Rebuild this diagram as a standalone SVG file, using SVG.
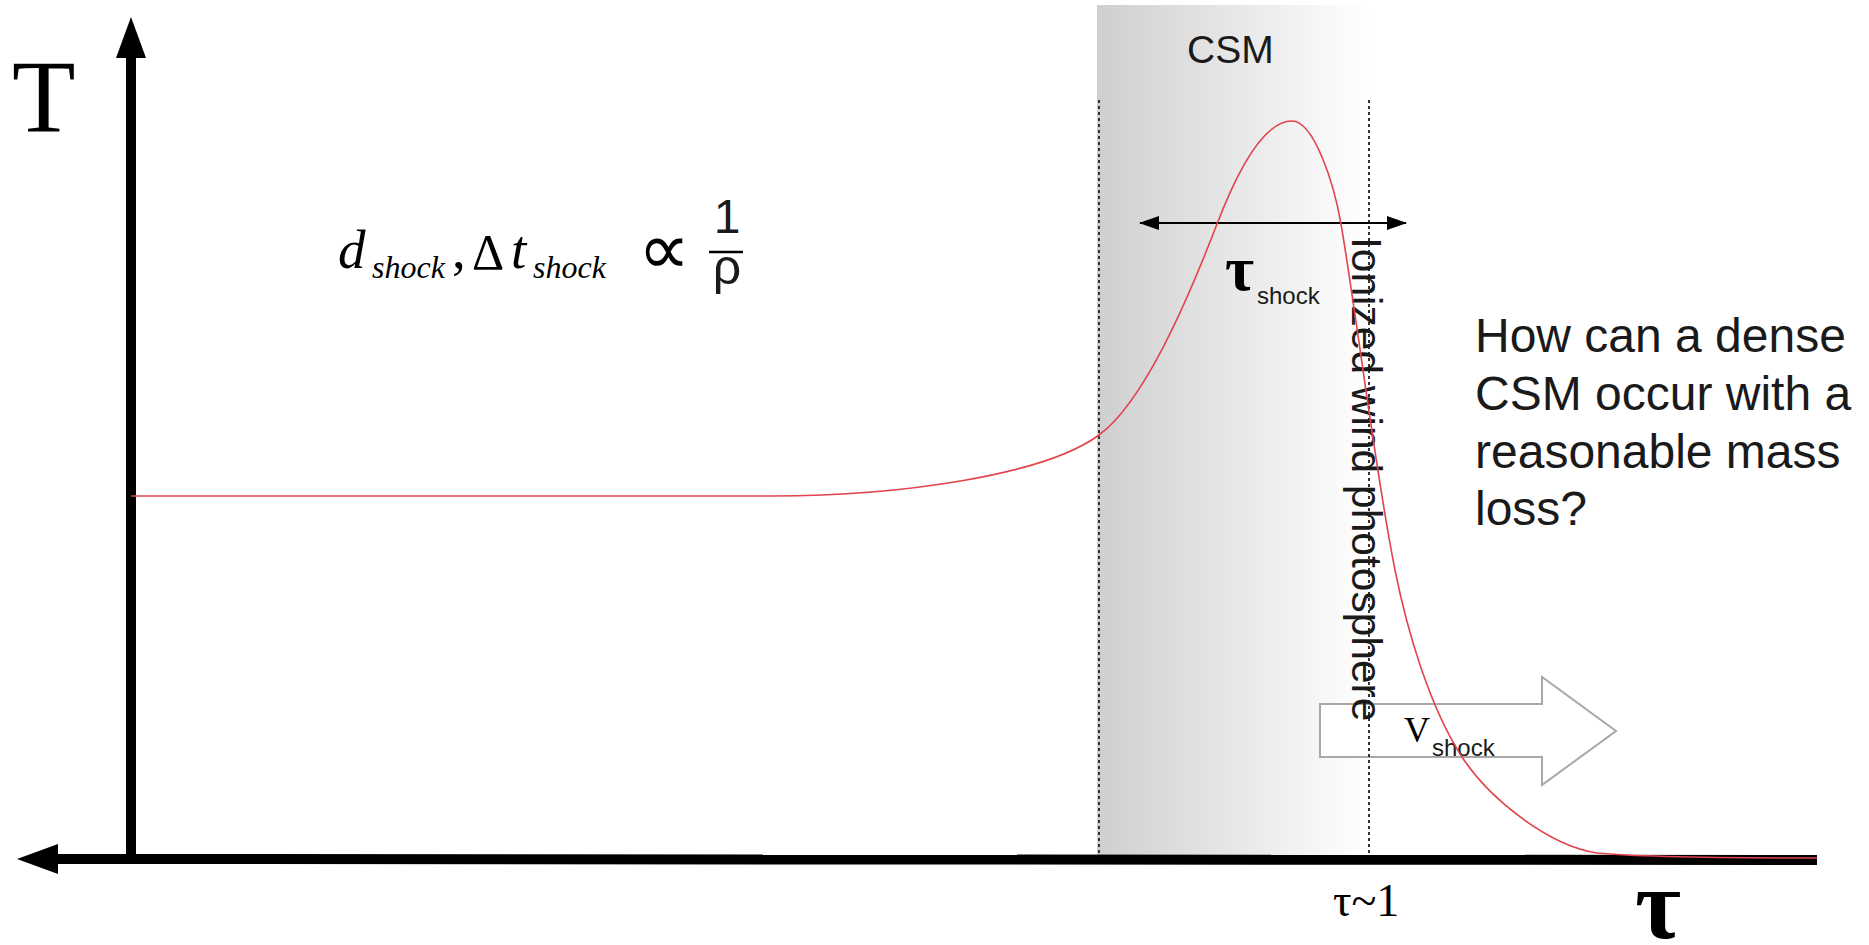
<svg xmlns="http://www.w3.org/2000/svg" width="1869" height="945" viewBox="0 0 1869 945">
<defs>
<linearGradient id="csmGrad" x1="0" y1="0" x2="1" y2="0">
<stop offset="0" stop-color="#cfcfcf"/>
<stop offset="1" stop-color="#ffffff"/>
</linearGradient>
<marker id="tipS" viewBox="0 0 20 14" refX="19" refY="7" markerWidth="20" markerHeight="14" markerUnits="userSpaceOnUse" orient="auto-start-reverse">
<path d="M0,0 L20,7 L0,14 z" fill="#000"/>
</marker>
<style>
.serif{font-family:"Liberation Serif","Times New Roman",serif;fill:#000}
.sans{font-family:"Liberation Sans",Arial,sans-serif;fill:#1a1a1a}
.it{font-style:italic}
.dot{stroke:#333;stroke-width:2;stroke-dasharray:3 3;fill:none}
.axis{stroke:#000;stroke-width:10;fill:none}
</style>
</defs>
<rect width="1869" height="945" fill="#fff"/>

<g id="csm-region">
<rect x="1097" y="5" width="272" height="852" fill="url(#csmGrad)"/>
<text class="sans" x="1187" y="63" font-size="39">CSM</text>
</g>

<g id="vshock-arrow">
<polygon points="1320,704 1542,704 1542,677 1616,731 1542,785 1542,757 1320,757" fill="#fff" stroke="#a8a8a8" stroke-width="2"/>
<text class="serif" x="1404" y="742" font-size="36">V</text>
<text class="sans" x="1432" y="756" font-size="24">shock</text>
</g>

<g id="connectors">
<line class="dot" x1="1099" y1="100" x2="1099" y2="856"/>
<line class="dot" x1="1369" y1="100" x2="1369" y2="856"/>
<line x1="1140" y1="223" x2="1406" y2="223" stroke="#000" stroke-width="2" marker-start="url(#tipS)" marker-end="url(#tipS)"/>
</g>

<g id="tau-shock">
<text class="serif" x="1225" y="290" font-size="63" font-weight="bold">τ</text>
<text class="sans" x="1257" y="304" font-size="24">shock</text>
</g>

<g id="photosphere-label">
<text class="sans" x="0" y="0" font-size="42.5" fill="#111" transform="translate(1352,237) rotate(90)">Ionized wind photosphere</text>
</g>

<g id="axes">
<line class="axis" x1="131" y1="56" x2="131" y2="859"/>
<polygon points="131,17 116,58 146,58" fill="#000"/>
<line class="axis" x1="56" y1="859" x2="1817" y2="860"/>
<polygon points="17,859 58,844 58,874" fill="#000"/>
</g>

<g id="curve">
<path d="M131,496 L772,496 C900,496 1045,475 1099,435 C1144,401.7 1187,302 1217,224 C1235,177 1262,121 1292,121 C1314,121 1334.2,184 1341,224 C1358,324 1375,470 1395,570 C1407,630 1429.5,707 1462,757 C1488,797 1547,845.5 1597,853 C1640,857 1720,858 1817,858" fill="none" stroke="#e2434c" stroke-width="1.6"/>
</g>

<g id="labels">
<text class="serif" x="12" y="132" font-size="104">T</text>
<text class="serif" x="1635" y="938" font-size="100" font-weight="bold">τ</text>
<text class="serif" x="1333" y="916" font-size="46">τ~1</text>
</g>

<g id="formula">
<text class="serif it" x="338" y="268" font-size="55">d</text>
<text class="serif it" x="372" y="278" font-size="32">shock</text>
<text class="serif" x="452" y="268" font-size="55">,</text>
<text class="serif" x="472" y="269" font-size="50">Δ</text>
<text class="serif it" x="511" y="268" font-size="55">t</text>
<text class="serif it" x="533" y="278" font-size="32">shock</text>
<text class="serif" x="638" y="274" font-size="73">∝</text>
<text class="sans" x="727" y="233" font-size="48" text-anchor="middle" fill="#000">1</text>
<line x1="709" y1="252" x2="743" y2="252" stroke="#000" stroke-width="2.5"/>
<text class="sans" x="727" y="284" font-size="50" text-anchor="middle" fill="#000">ρ</text>
</g>

<g id="question">
<text class="sans" font-size="48" fill="#222">
<tspan x="1475" y="352">How can a dense</tspan>
<tspan x="1475" y="410">CSM occur with a</tspan>
<tspan x="1475" y="468">reasonable mass</tspan>
<tspan x="1475" y="525">loss?</tspan>
</text>
</g>
</svg>
